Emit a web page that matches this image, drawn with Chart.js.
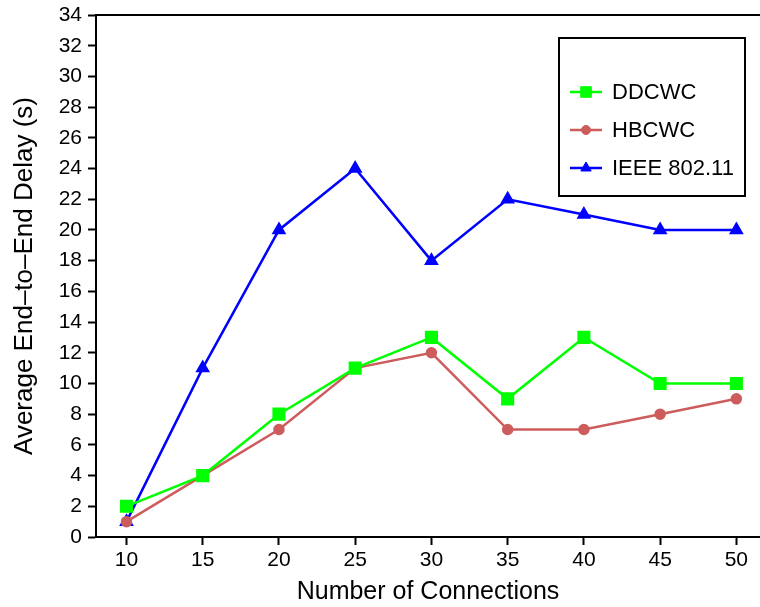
<!DOCTYPE html>
<html>
<head>
<meta charset="utf-8">
<script src="https://cdn.jsdelivr.net/npm/chart.js@4/dist/chart.umd.min.js"></script>
<style>
  html, body { margin: 0; padding: 0; background: #fff; }
  #wrap { width: 760px; height: 607px; }
</style>
</head>
<body>
<div id="wrap"><canvas id="delay-chart"></canvas></div>
<script>
const connections = [10, 15, 20, 25, 30, 35, 40, 45, 50];
const ddcwc = [2, 4, 8, 11, 13, 9, 13, 10, 10];
const hbcwc = [1, 4, 7, 11, 12, 7, 7, 8, 9];
const ieee = [1, 11, 20, 24, 18, 22, 21, 20, 20];
const yTicks = [0, 2, 4, 6, 8, 10, 12, 14, 16, 18, 20, 22, 24, 26, 28, 30, 32, 34];

const fontFamily = "'Liberation Sans', Arial, sans-serif";

function toPoints(values) {
    return connections.map((c, i) => ({ x: c, y: values[i] }));
}

// legend box drawn inside the plot, like the original figure
const boxLegend = {
    id: 'boxLegend',
    afterDraw(chart) {
        const c = chart.ctx;
        const left = 559, top = 38, w = 186, h = 158;
        c.save();
        c.fillStyle = '#fff';
        c.fillRect(left, top, w, h);
        c.strokeStyle = '#000';
        c.lineWidth = 2;
        c.strokeRect(left, top, w, h);
        chart.data.datasets.forEach((ds, i) => {
            const y = 92 + i * 38;
            c.strokeStyle = ds.borderColor;
            c.fillStyle = ds.backgroundColor;
            c.lineWidth = ds.borderWidth;
            c.beginPath();
            c.moveTo(570, y);
            c.lineTo(602, y);
            c.stroke();
            c.lineWidth = 1;
            Chart.helpers.drawPoint(c, {
                pointStyle: ds.pointStyle,
                radius: ds.pointRadius,
                borderWidth: 1
            }, 586, y);
            c.fillStyle = '#000';
            c.font = '22px ' + fontFamily;
            c.textBaseline = 'middle';
            c.fillText(ds.label, 612, y + 1);
        });
        c.restore();
    }
};

const noSidePad = (s) => { s.paddingLeft = 0; s.paddingRight = 0; };
const noEndPad = (s) => { s.paddingTop = 0; s.paddingBottom = 0; };

const ctx = document.getElementById('delay-chart').getContext('2d');
const delayChart = new Chart(ctx, {
    type: 'line',
    data: {
        datasets: [
            {
                label: 'DDCWC',
                data: toPoints(ddcwc),
                borderColor: '#00ff00',
                backgroundColor: '#00ff00',
                pointStyle: 'rect',
                pointRadius: 7.5,
                borderWidth: 2.5,
            },
            {
                label: 'HBCWC',
                data: toPoints(hbcwc),
                borderColor: '#cd5c5c',
                backgroundColor: '#cd5c5c',
                pointStyle: 'circle',
                pointRadius: 4.5,
                borderWidth: 2.5,
            },
            {
                label: 'IEEE 802.11',
                data: toPoints(ieee),
                borderColor: '#0000ff',
                backgroundColor: '#0000ff',
                pointStyle: 'triangle',
                pointRadius: 6,
                borderWidth: 2.5,
            },
        ],
    },
    options: {
        responsive: true,
        maintainAspectRatio: false,
        animation: false,
        layout: { padding: { left: 9, right: 0, top: 0, bottom: 0 }, autoPadding: false },
        elements: {
            line: { tension: 0 },
            point: { borderWidth: 1, hoverRadius: 6 },
        },
        plugins: {
            legend: { display: false },
            tooltip: { enabled: false },
        },
        scales: {
            x: {
                type: 'linear',
                position: 'bottom',
                min: 8,
                max: 51.55,
                afterBuildTicks: (s) => { s.ticks = connections.map(v => ({ value: v })); },
                afterFit: (s) => { s.height = 70; noSidePad(s); },
                grid: { display: true, drawOnChartArea: false, tickLength: 8, tickWidth: 2, color: '#000' },
                border: { display: true, width: 2, color: '#000' },
                ticks: { color: '#000', font: { size: 21, family: fontFamily }, padding: 3, maxRotation: 0 },
                title: {
                    display: true,
                    text: 'Number of Connections',
                    color: '#000',
                    font: { size: 25, family: fontFamily },
                    padding: { top: 0, bottom: 0 },
                },
            },
            xTop: {
                type: 'linear',
                position: 'top',
                min: 8,
                max: 51.55,
                afterFit: (s) => { s.height = 15; noSidePad(s); },
                grid: { display: false },
                border: { display: true, width: 2, color: '#000' },
                ticks: { display: false },
            },
            y: {
                min: 0,
                max: 34,
                afterBuildTicks: (s) => { s.ticks = yTicks.map(v => ({ value: v })); },
                afterFit: (s) => { s.width = 87; noEndPad(s); },
                grid: { display: true, drawOnChartArea: false, tickLength: 8, tickWidth: 2, color: '#000' },
                border: { display: true, width: 2, color: '#000' },
                ticks: { color: '#000', font: { size: 21, family: fontFamily }, padding: 6 },
                title: {
                    display: true,
                    text: 'Average End–to–End Delay (s)',
                    color: '#000',
                    font: { size: 26, family: fontFamily },
                    padding: { top: 0, bottom: 2 },
                },
            },
        },
    },
    plugins: [boxLegend],
});
</script>
</body>
</html>
